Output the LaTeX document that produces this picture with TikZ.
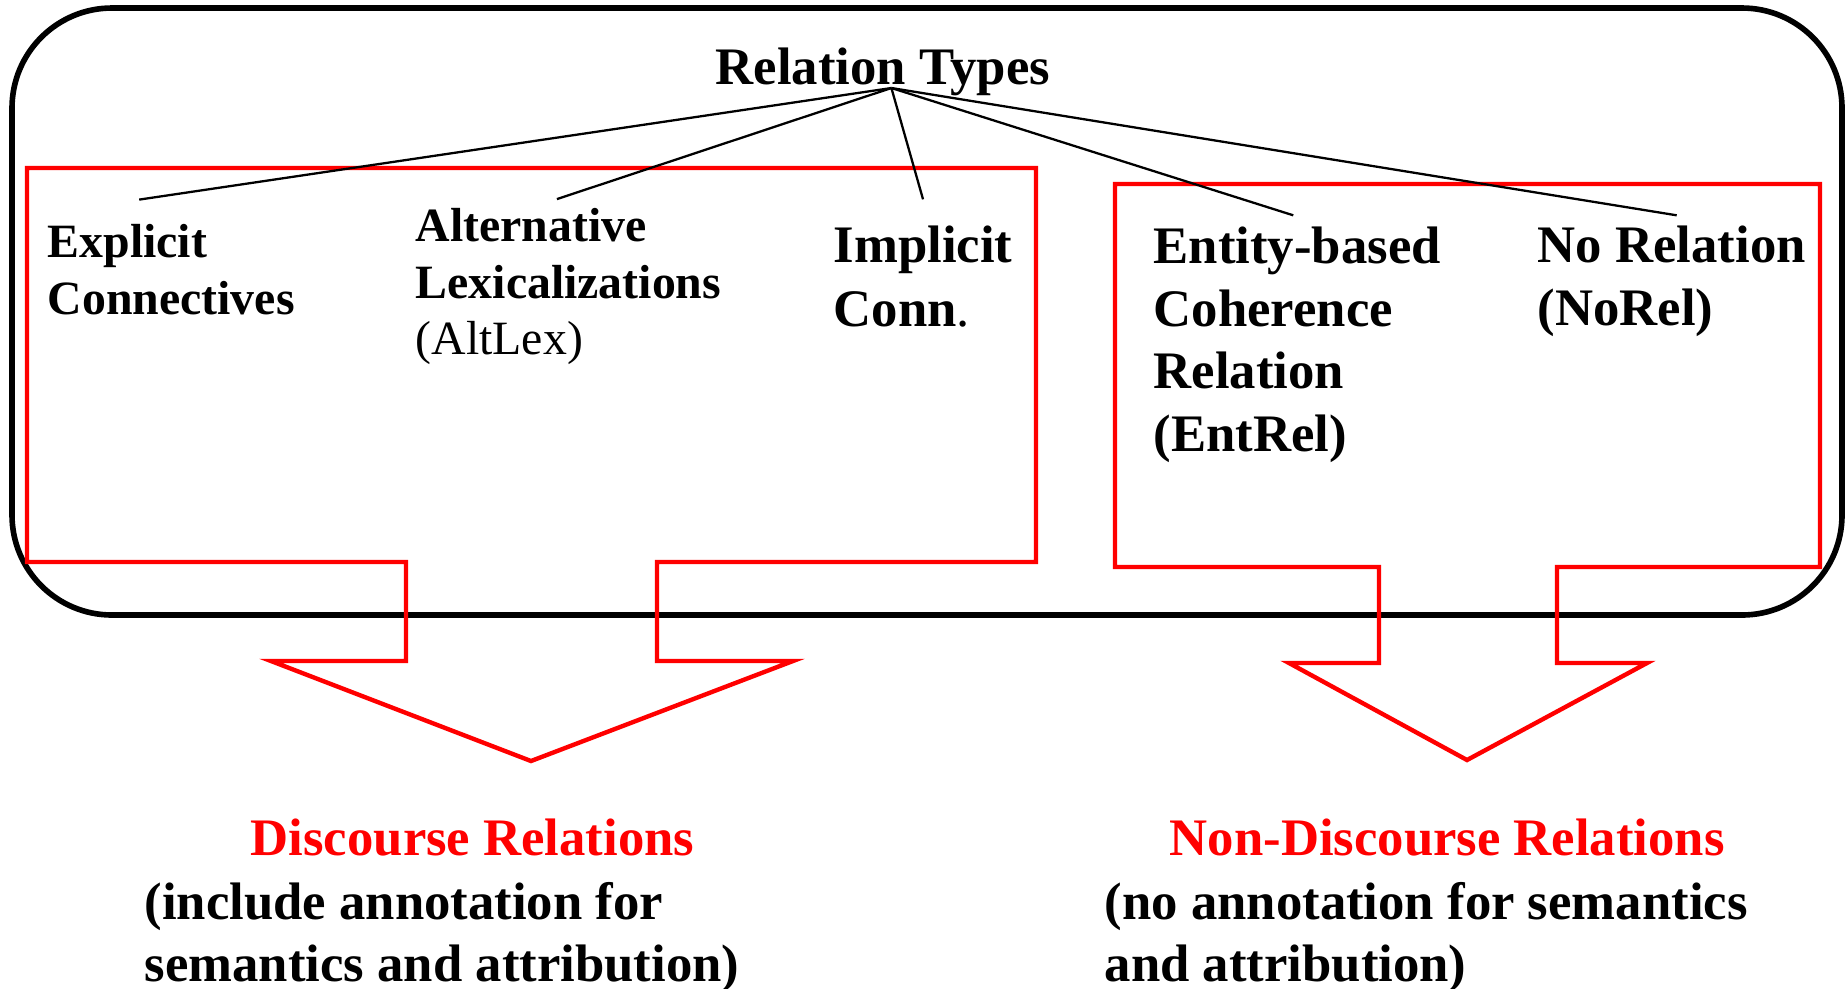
\documentclass[tikz,border=0pt]{standalone}
\usepackage{fontspec}
\setmainfont{Liberation Serif}
\usetikzlibrary{positioning}

\tikzset{
  lbl/.style={anchor=base west, inner sep=0pt, align=left,
    font=\bfseries\fontsize{15pt}{17.8pt}\selectfont},
  block/.style={lbl, anchor=north west},
  small block/.style={block, font=\bfseries\fontsize{13.6pt}{16.1pt}\selectfont},
  branch/.style={line width=0.65pt},
  group/.style={draw=red, line width=1.25pt, line join=miter},
}

\begin{document}
\begin{tikzpicture}[x=0.1mm, y=-0.1mm]
	\useasboundingbox (0,0) rectangle (1846,988);
	\draw[line width=1.6pt, rounded corners=10mm] (12,8) rectangle (1842,615);
	\draw[group] (27,168) -- (1036,168) -- (1036,562) -- (657,562) -- (657,661) -- (793,661)
		-- (531,761) -- (271,661) -- (406,661) -- (406,562) -- (27,562) -- cycle;
	\draw[group] (1115,184) -- (1820,184) -- (1820,567) -- (1557,567) -- (1557,663) -- (1647,663)
		-- (1467,760) -- (1289,663) -- (1379,663) -- (1379,567) -- (1115,567) -- cycle;
	\node[lbl] (types) at (715,84) {Relation Types};
	\node[small block] (expl) at (47,223.6) {Explicit\\Connectives};
	\node[small block] (altlex) at (415,207.6) {Alternative\\Lexicalizations\\\mdseries (AltLex)};
	\node[block, font=\bfseries\fontsize{15pt}{18.2pt}\selectfont] (impl) at (833,225.3) {Implicit\\Conn\textmd{.}};
	\node[block] (entrel) at (1153,226.3) {Entity-based\\Coherence\\Relation\\(EntRel)};
	\node[block] (norel) at (1537,225.3) {No Relation\\(NoRel)};
	\node[lbl, text=red] (disc) at (250,855) {Discourse Relations};
	\node[block] (disc note) at (144,881.5) {(include annotation for\\semantics and attribution)};
	\node[lbl, text=red] (nondisc) at (1169,855) {Non-Discourse Relations};
	\node[block] (nondisc note) at (1104,881.5) {(no annotation for semantics\\and attribution)};
	\coordinate (apex) at ([xshift=0.85mm,yshift=-0.4mm]types.base);
	\draw[branch] (apex) -- ([xshift=-3.2mm,yshift=2.4mm]expl.north);
	\draw[branch] (apex) -- ([xshift=-1.15mm,yshift=0.85mm]altlex.north);
	\draw[branch] (apex) -- ([yshift=2.6mm]impl.north);
	\draw[branch] (apex) -- ([xshift=-0.4mm,yshift=1.1mm]entrel.north);
	\draw[branch] (apex) -- ([xshift=0.5mm,yshift=1mm]norel.north);
\end{tikzpicture}
\end{document}
